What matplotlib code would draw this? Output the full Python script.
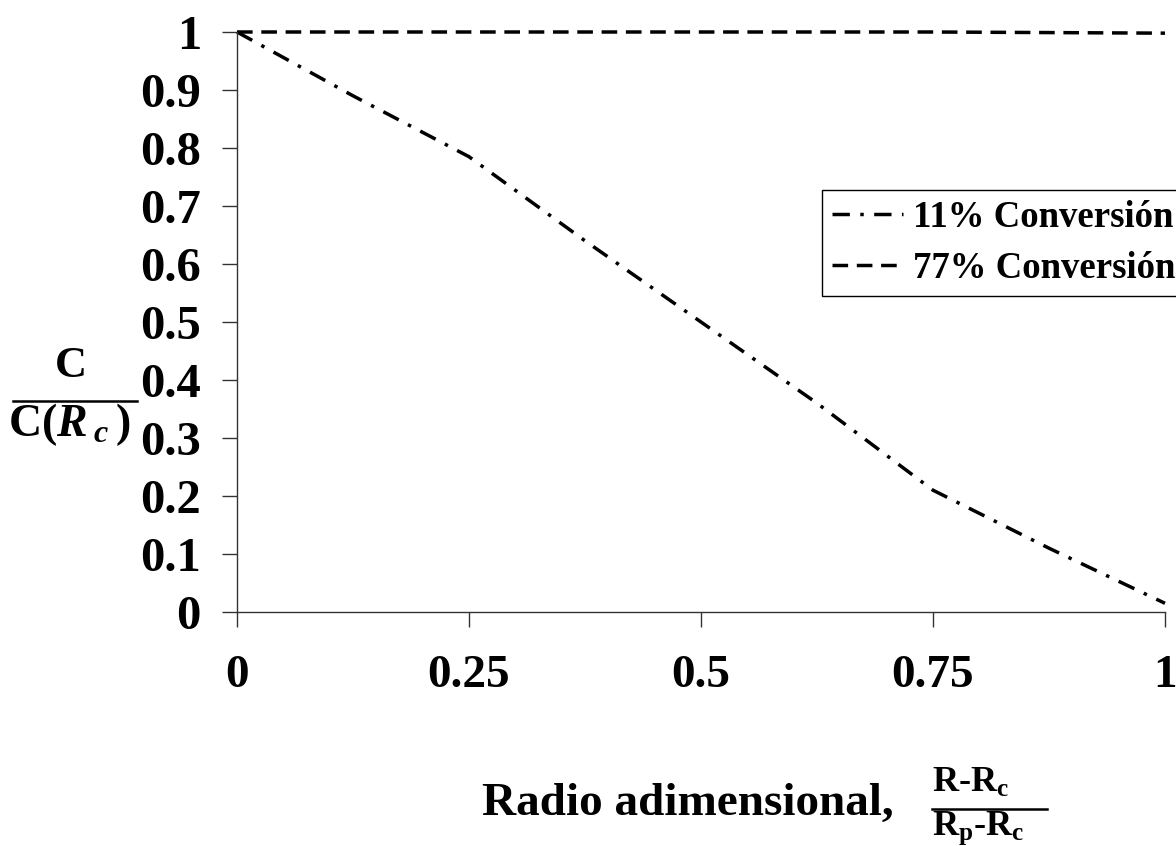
import matplotlib
matplotlib.use("Agg")
import matplotlib.pyplot as plt
from matplotlib.lines import Line2D
from matplotlib.ticker import MultipleLocator, FixedLocator, FuncFormatter

# ------------------------ #
# DATA
# ------------------------ #

x_11 = [0.0, 0.125, 0.25, 0.375, 0.5, 0.625, 0.75, 0.875, 1.0]
c_11 = [1.0, 0.89, 0.785, 0.64, 0.50, 0.36, 0.21, 0.11, 0.015]

x_77 = [0.0, 0.25, 0.5, 0.75, 1.0]
c_77 = [1.0, 1.0, 1.0, 1.0, 0.998]

labels = ["11% Conversión", "77% Conversión"]
x_ticks = [0, 0.25, 0.5, 0.75, 1]

# ------------------------ #
# STYLE
# ------------------------ #

plt.rcParams["font.family"] = ["Liberation Serif", "DejaVu Serif"]
plt.rcParams["font.weight"] = "bold"
plt.rcParams["mathtext.fontset"] = "custom"
plt.rcParams["mathtext.rm"] = "Liberation Serif:bold"
plt.rcParams["mathtext.bf"] = "Liberation Serif:bold"
plt.rcParams["mathtext.it"] = "Liberation Serif:bold:italic"

W, H = 1176, 846


def fx(px):
    return px / W


def fy(py):
    return 1 - py / H


fig = plt.figure(figsize=(W / 100, H / 100), dpi=100)
ax = fig.add_axes([fx(237), fy(612), fx(1165) - fx(237), fy(32) - fy(612)])

ax.plot(x_11, c_11, color="black", lw=2.5, linestyle=(0, (5, 3, 1, 3)),
        label=labels[0], clip_on=False)
ax.plot(x_77, c_77, color="black", lw=2.5, linestyle=(0, (4.5, 2.5)),
        label=labels[1], clip_on=False)

ax.set_xlim(0, 1)
ax.set_ylim(0, 1)

for s in ["top", "right"]:
    ax.spines[s].set_visible(False)
for s in ["left", "bottom"]:
    ax.spines[s].set_color("#333333")
    ax.spines[s].set_linewidth(1.0)

# y labels: "0", "0.1", ..., "1"
ax.yaxis.set_major_locator(MultipleLocator(0.1))
ax.yaxis.set_major_formatter(FuncFormatter(lambda v, p: f"{round(v, 1):g}"))
ax.xaxis.set_major_locator(FixedLocator(x_ticks))
ax.xaxis.set_major_formatter(FuncFormatter(lambda v, p: f"{v:g}"))

ax.tick_params(axis="y", direction="out", length=11, width=1.0, pad=15,
               labelsize=35, color="#333333")
ax.tick_params(axis="x", direction="out", length=11, width=1.0, pad=20,
               labelsize=34, color="#333333")

# legend, partly cut at the right edge like the original
leg = ax.legend(loc="upper left", bbox_to_anchor=(fx(822), fy(190)),
                bbox_transform=fig.transFigure, fontsize=26.5, frameon=True,
                fancybox=False, framealpha=1, edgecolor="black",
                handlelength=1.95, handletextpad=0.25, borderpad=0.26,
                labelspacing=0.45, borderaxespad=0)
leg.get_frame().set_linewidth(1.0)

# y label as a fraction
fig.text(fx(71), fy(377), "C", fontsize=32, ha="center", va="baseline")
fig.add_artist(Line2D([fx(13), fx(137)], [fy(401), fy(401)],
                      transform=fig.transFigure, color="black", lw=1.8))
fig.text(fx(8), fy(436), r"C($R_{\;c}\,$)", fontsize=33,
         ha="left", va="baseline")

# x label with fraction
fig.text(fx(482), fy(815), "Radio adimensional,", fontsize=34,
         ha="left", va="baseline")
fig.text(fx(932), fy(792), r"R-R$_\mathrm{c}$", fontsize=26,
         ha="left", va="baseline")
fig.add_artist(Line2D([fx(932), fx(1047)], [fy(809), fy(809)],
                      transform=fig.transFigure, color="black", lw=1.8))
fig.text(fx(932), fy(835), r"R$_\mathrm{p}$-R$_\mathrm{c}$", fontsize=26,
         ha="left", va="baseline")

plt.savefig("out.png", dpi=100)
